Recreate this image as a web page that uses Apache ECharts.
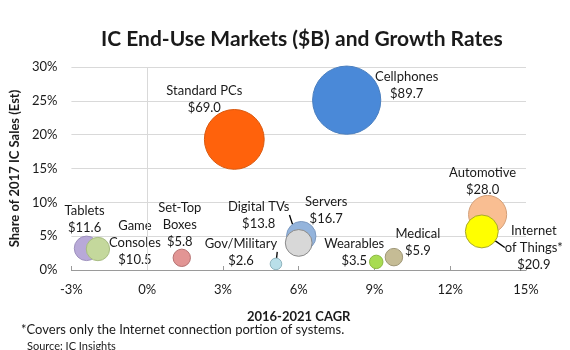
<!DOCTYPE html>
<html>
<head>
<meta charset="utf-8">
<script src="https://cdn.jsdelivr.net/npm/echarts@6/dist/echarts.min.js"></script>
<style>html,body{margin:0;padding:0;background:#fff;}#c{width:570px;height:350px;}</style>
</head>
<body>
<div id="c"></div>
<script>
// Data
const markets = ["Cellphones","Standard PCs","Tablets","Game Consoles","Set-Top Boxes","Gov/Military","Servers","Digital TVs","Wearables","Medical","Automotive","Internet of Things*"];
const labelNames = ["Cellphones","Standard PCs","Tablets","Game\nConsoles","Set-Top\nBoxes","Gov/Military","Servers","Digital TVs","Wearables","Medical","Automotive","Internet\nof Things*"];
const cagr = [7.9, 3.45, -2.4, -1.95, 1.37, 5.1, 6.1, 6.0, 9.07, 9.77, 13.48, 13.25];
const share = [25.1, 19.3, 3.2, 3.1, 1.8, 0.9, 5.0, 4.0, 1.2, 1.9, 8.2, 5.7];
const sales = [89.7, 69.0, 11.6, 10.5, 5.8, 2.6, 16.7, 13.8, 3.5, 5.9, 28.0, 20.9];
const xTicks = [-3, 0, 3, 6, 9, 12, 15];
const yTicks = [0, 5, 10, 15, 20, 25, 30];

// Styles (not data)
const fills = ["#4a89d8","#ff620c","#b8a9d8","#c4d89c","#e29594","#b9dfe9","#94b4dc","#d8d8d8","#a8dc52","#c5bc95","#f9be92","#ffff00"];
const borders = ["#4a7fbf","#d9590f","#9e91bd","#a7bb82","#b57070","#8fb3bd","#7d9ac0","#8a8a8a","#8bb840","#9e9676","#d39f78","#a8a830"];
const labelOffsets = [[60,-15],[-30,-40],[-2,-29],[37,-6],[-2,-33],[-35,-12],[25,-26],[-40,-28],[-22,-10],[24,-15],[-5,-33],[52,16]];
const leaderItems = [5,7,11];

const font = 'Lato, "Open Sans", sans-serif';
const chart = echarts.init(document.getElementById('c'));
const data = markets.map((m,i)=>({
  name: m,
  value: [cagr[i], share[i], sales[i]],
  itemStyle: {color: fills[i], borderColor: borders[i], borderWidth: 1, opacity: 1},
  label: {formatter: labelNames[i] + "\n$" + sales[i].toFixed(1)},
  labelLine: {show: leaderItems.indexOf(i) >= 0}
}));

chart.setOption({
  animation: false,
  title: [
    {text: 'IC End-Use Markets ($B) and Growth Rates', left: 96, top: 24,
     textStyle: {fontFamily: font, fontSize: 21, fontWeight: 'bold', color: '#1a1a1a'}},
    {text: '*Covers only the Internet connection portion of systems.', left: 16, top: 318,
     textStyle: {fontFamily: font, fontSize: 13, fontWeight: 'normal', color: '#1a1a1a'}},
    {text: 'Source: IC Insights', left: 22, top: 336,
     textStyle: {fontFamily: font, fontSize: 11, fontWeight: 'normal', color: '#1a1a1a'}}
  ],
  grid: {left: 66, right: 44, top: 67, bottom: 80},
  xAxis: {
    type: 'value', min: -3, max: 15, interval: 3,
    name: '2016-2021 CAGR', nameLocation: 'middle', nameGap: 40,
    nameTextStyle: {fontFamily: font, fontSize: 13, fontWeight: 'bold', color: '#1a1a1a'},
    axisLine: {show: true, onZero: false, lineStyle: {color: '#9a9a9a'}},
    axisTick: {show: true, inside: true, length: 4, lineStyle: {color: '#9a9a9a'}},
    axisLabel: {fontFamily: font, fontSize: 13, color: '#1a1a1a', margin: 13, formatter: v => v + '%'},
    splitLine: {show: false}
  },
  yAxis: {
    type: 'value', min: 0, max: 30, interval: 5,
    name: 'Share of 2017 IC Sales (Est)', nameLocation: 'middle', nameGap: 47,
    nameTextStyle: {fontFamily: font, fontSize: 13, fontWeight: 'bold', color: '#1a1a1a'},
    axisLine: {show: false},
    axisTick: {show: false},
    axisLabel: {fontFamily: font, fontSize: 13, color: '#1a1a1a', margin: 14, formatter: v => v + '%'},
    splitLine: {show: true, lineStyle: {color: '#d9d9d9'}}
  },
  series: [{
    type: 'scatter',
    data: data,
    symbolSize: v => 7.2 * Math.sqrt(v[2]),
    label: {show: true, position: 'inside', fontFamily: font, fontSize: 13, lineHeight: 17, color: '#1a1a1a', align: 'center'},
    labelLayout: p => ({dx: labelOffsets[p.dataIndex][0], dy: labelOffsets[p.dataIndex][1]}),
    labelLine: {show: false, lineStyle: {color: '#000', width: 1.3}},
    emphasis: {disabled: true},
    markLine: {
      silent: true, symbol: 'none', label: {show: false},
      lineStyle: {color: '#d9d9d9', type: 'solid', width: 1},
      data: [{xAxis: 0}]
    },
    z: 3
  }]
});
</script>
</body>
</html>
